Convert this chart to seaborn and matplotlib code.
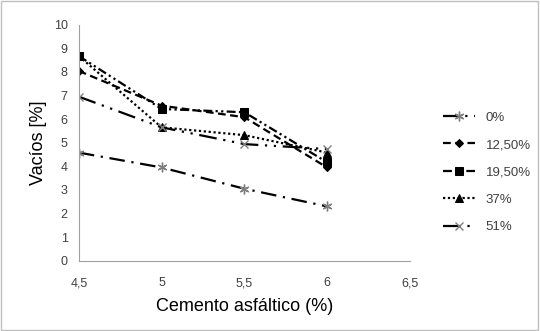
import matplotlib
matplotlib.use("Agg")
import matplotlib.pyplot as plt
import seaborn as sns
import pandas as pd
from matplotlib.patches import Rectangle

sns.set_style("white")
plt.rcParams['font.family'] = ['Liberation Sans', 'DejaVu Sans']

cemento = [4.5, 5.0, 5.5, 6.0]
labels = ["0%", "12,50%", "19,50%", "37%", "51%"]
v0 = [4.58, 3.95, 3.05, 2.30]
v125 = [8.04, 6.57, 6.08, 3.95]
v195 = [8.67, 6.43, 6.29, 4.17]
v37 = [8.67, 5.65, 5.32, 4.58]
v51 = [6.95, 5.65, 4.94, 4.73]
series = [v0, v125, v195, v37, v51]

x_ticks = [4.5, 5.0, 5.5, 6.0, 6.5]
x_ticklabels = ["4,5", "5", "5,5", "6", "6,5"]
y_ticks = list(range(0, 11))

styles = [
    dict(linestyle=(0, (7, 3, 1, 3)), marker=(6, 2, 0), markersize=7, mec="#7f7f7f", mfc="none", mew=1.0),
    dict(linestyle=(0, (3.5, 2)), marker="D", markersize=4, mec="black", mfc="black"),
    dict(linestyle=(0, (4, 1.5, 1, 1.5, 1, 1.5)), marker="s", markersize=5.5, mec="black", mfc="black"),
    dict(linestyle=(0, (1, 1.2)), marker="^", markersize=5.5, mec="black", mfc="black"),
    dict(linestyle=(0, (8, 3, 1, 3, 1, 3)), marker="x", markersize=6, mec="#7f7f7f", mew=1.0),
]

fig = plt.figure(figsize=(5.4, 3.31), dpi=100)
ax = fig.add_axes([0.146, 0.2124, 0.613, 0.713])

for lab, vals, st in zip(labels, series, styles):
    df = pd.DataFrame({"x": cemento, "y": vals})
    sns.lineplot(data=df, x="x", y="y", ax=ax, color="black", linewidth=1.6,
                 label=lab, **st)

ax.set_xlim(4.5, 6.5)
ax.set_ylim(0, 10)
ax.set_xticks(x_ticks)
ax.set_xticklabels(x_ticklabels)
ax.set_yticks(y_ticks)
ax.tick_params(axis="both", labelsize=9, colors="#404040", length=4, width=0.8,
               direction="out", color="#a0a0a0", pad=4)
ax.tick_params(axis="x", pad=8)
for s in ["top", "right"]:
    ax.spines[s].set_visible(False)
for s in ["left", "bottom"]:
    ax.spines[s].set_color("#a0a0a0")
    ax.spines[s].set_linewidth(0.8)
ax.set_xlabel("Cemento asfáltico (%)", fontsize=13, color="black", labelpad=6)
ax.set_ylabel("Vacíos [%]", fontsize=13, color="black", labelpad=5)

leg = ax.legend(loc="upper left", bbox_to_anchor=(1.085, 0.655), frameon=False,
                fontsize=9.5, handlelength=2.4, labelspacing=1.15, handletextpad=0.8,
                borderaxespad=0)
for t in leg.get_texts():
    t.set_color("#404040")

fig.patches.append(Rectangle((0.002, 0.003), 0.995, 0.993, transform=fig.transFigure,
                             fill=False, edgecolor="#bfbfbf", linewidth=1.0))

fig.savefig("out.png", dpi=100)
